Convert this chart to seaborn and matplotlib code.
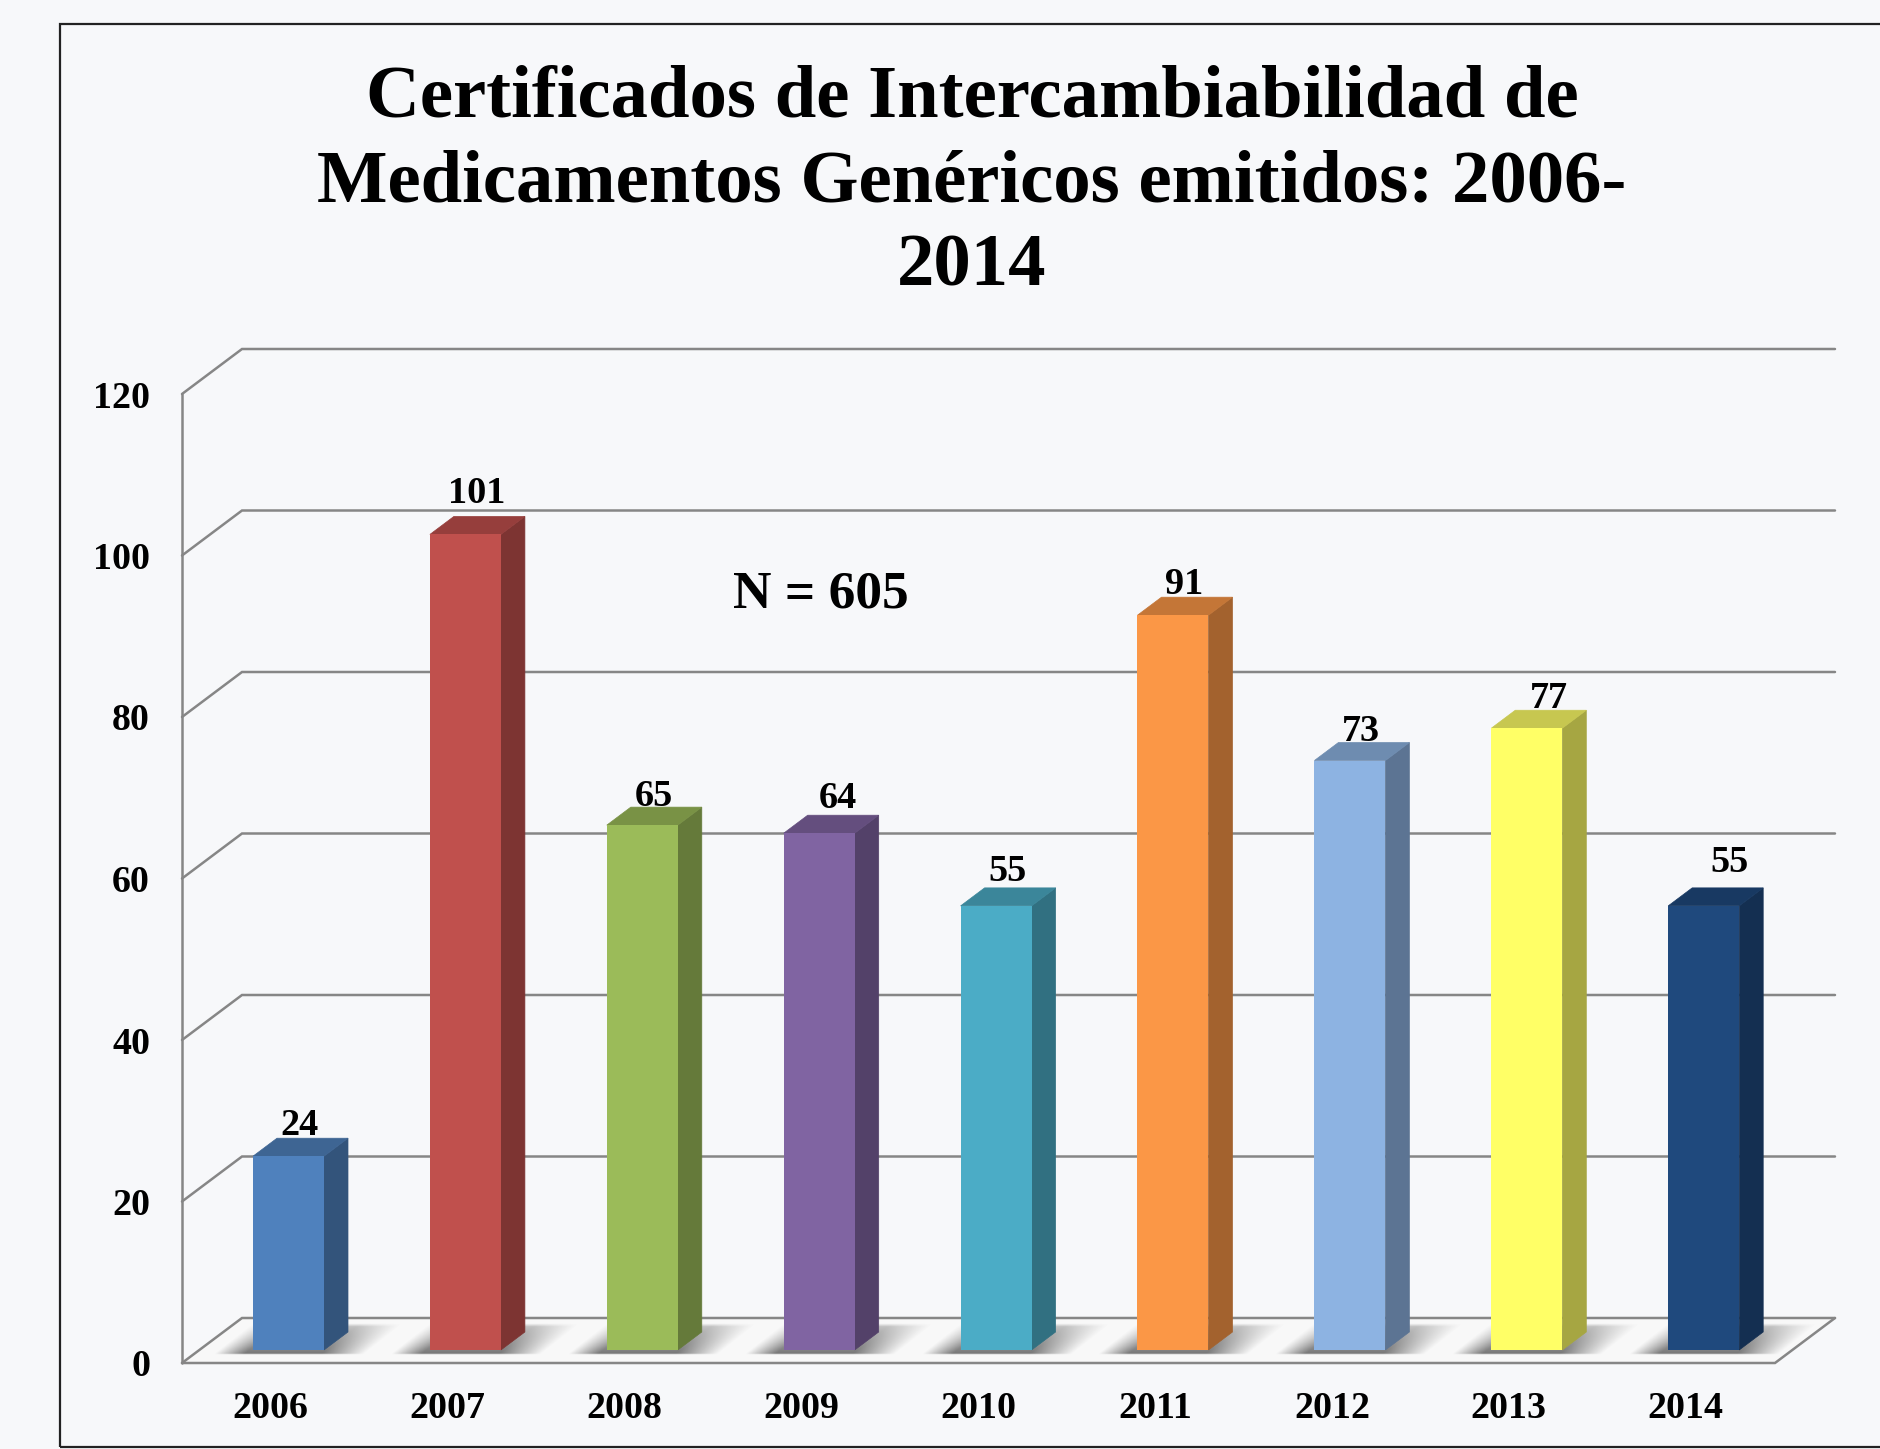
import numpy as np
import matplotlib
matplotlib.use('Agg')
import matplotlib.pyplot as plt
from matplotlib.colors import to_rgb
from matplotlib.patches import Rectangle
import seaborn as sns

# data
years = ['2006', '2007', '2008', '2009', '2010', '2011', '2012', '2013', '2014']
counts = [24, 101, 65, 64, 55, 91, 73, 77, 55]
y_ticks = [0, 20, 40, 60, 80, 100, 120]
bar_colors = ['#4f81bd', '#c0504d', '#9bbb59', '#8064a2', '#4bacc6',
              '#fb9746', '#8db3e2', '#ffff66', '#1f497d']
title = 'Certificados de Intercambiabilidad de\nMedicamentos Genéricos emitidos: 2006-\n2014'
note = 'N = 605'

# the value labels are placed by hand in the original (pixels from bar top centre)
label_dx = [11, 11, 12, 19, 11, 11, 11, 22, 26]
label_dy = [31, 41, 29, 35, 34, 31, 29, 30, 43]

BG = '#f7f8fa'
GRID = '#868686'
W, H = 1880, 1449

sns.set_theme(style='white')
plt.rcParams['font.family'] = ['Liberation Serif', 'DejaVu Serif']
plt.rcParams['font.weight'] = 'bold'

fig = plt.figure(figsize=(W / 100, H / 100), dpi=100, facecolor=BG)
# the axes is the front plane of the fake 3D box
left, right, top, bottom = 182, 1775, 394, 1363
ax = fig.add_axes([left / W, 1 - bottom / H, (right - left) / W, (bottom - top) / H])
ax.set_facecolor('none')

px_x = 1 / 176.9   # one pixel in category units
px_y = 120 / (bottom - top)
xmin, xmax = (left - 288.5) * px_x, (right - 288.5) * px_x
base = 13 * px_y   # bars stand a little behind the front edge of the floor

df_x = np.arange(len(years))
sns.barplot(x=years, y=counts, hue=years, palette=bar_colors, dodge=False, legend=False,
            width=71 * px_x, saturation=1, bottom=base, linewidth=0, ax=ax, zorder=4)

# box walls and floor
wall_dx, wall_dy = 60 * px_x, 45 * px_y
line = dict(color=GRID, lw=1.8, clip_on=False, zorder=1, solid_joinstyle='miter')
ax.fill([xmin, xmin + wall_dx, xmax + wall_dx, xmax], [0, wall_dy, wall_dy, 0],
        color='#f8f8f8', lw=0, clip_on=False, zorder=0.5)
ax.plot([xmin, xmin], [0, 120], **line)
for t in y_ticks:
    ax.plot([xmin, xmin + wall_dx, xmax + wall_dx], [t, t + wall_dy, t + wall_dy], **line)
ax.plot([xmin, xmax, xmax + wall_dx], [0, 0, wall_dy], **line)

# soft shadows on the floor
ny, nx = 40, 260
vv, uu = np.mgrid[0:1:ny * 1j, 0:1:nx * 1j]   # vv=0 at back, 1 at front
span = 210
for i in range(len(years)):
    sx = uu * span - (1 - vv) * 40       # unshear, pixels from shadow left side
    fade_l = np.clip(sx / 30, 0, 1)
    fade_r = np.clip((150 - sx) / 42, 0, 1)
    fade_v = (0.35 + 0.65 * vv) * np.clip((1 - vv) / 0.04, 0, 1) * np.clip(vv / 0.1, 0, 1)
    rgba = np.zeros((ny, nx, 4))
    rgba[..., :3] = 0.45
    rgba[..., 3] = fade_l * fade_r * fade_v * 0.98
    x0 = i + (-35.5 - 40) * px_x
    x1 = x0 + span * px_x
    im = ax.imshow(rgba, extent=[x0, x1, 8 * px_y, 40 * px_y], origin='upper',
                   aspect='auto', zorder=2, interpolation='bilinear')
    im.set_clip_on(False)

# side and top faces of each bar
dx, dy = 24 * px_x, 18 * px_y
half = 35.5 * px_x
for i, (v, c) in enumerate(zip(counts, bar_colors)):
    rgb = np.array(to_rgb(c))
    vtop = base + v
    ax.fill([i + half, i + half + dx, i + half + dx, i + half],
            [base, base + dy, vtop + dy, vtop], color=rgb * 0.65, lw=0.5, zorder=3, clip_on=False)
    ax.fill([i - half, i - half + dx, i + half + dx, i + half],
            [vtop, vtop + dy, vtop + dy, vtop], color=rgb * 0.78, lw=0.5, zorder=3, clip_on=False)
    ax.annotate(str(v), xy=(i, vtop), xytext=(label_dx[i] * 0.72, label_dy[i] * 0.72),
                textcoords='offset points', ha='center', va='center',
                fontsize=27.5, fontweight='bold', color='black', zorder=6)

ax.set_xlim(xmin, xmax)
ax.set_ylim(0, 120)
ax.set_yticks(y_ticks)
ax.set_xticks(df_x - 18 * px_x, years)
ax.tick_params(axis='both', length=0, labelsize=27.3, labelcolor='black')
ax.tick_params(axis='y', pad=23)
ax.tick_params(axis='x', pad=20)
ax.grid(False)
sns.despine(ax=ax, left=True, bottom=True)
ax.set_xlabel('')
ax.set_ylabel('')

ax.text(3.01, 95.2, note, ha='center', va='center', fontsize=38.4, fontweight='bold', color='black',
        transform=ax.transData)
fig.text(972 / W, 1 - 183 / H, title, ha='center', va='center', fontsize=53.8, fontweight='bold',
         color='black', linespacing=1.31)

# outer frame runs off the right side of the image
fig.add_artist(Rectangle((60 / W, 1 - 1447 / H), 1900 / W, 1423 / H, transform=fig.transFigure,
                         fill=False, ec='#222222', lw=1.6))

fig.savefig('out.png', dpi=100, facecolor=BG)
